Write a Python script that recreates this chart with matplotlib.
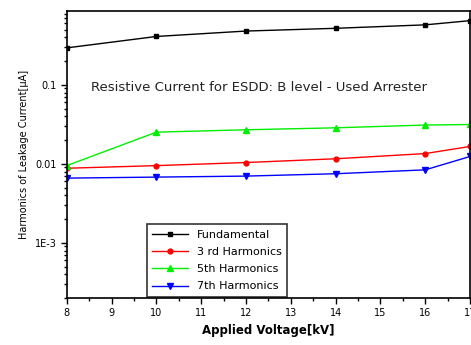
import numpy as np
import matplotlib.pyplot as plt
from matplotlib.ticker import LogLocator, NullFormatter, FixedLocator, MultipleLocator

voltage = [8, 10, 12, 14, 16, 17]
fundamental = [0.294, 0.41, 0.48, 0.52, 0.575, 0.65]
third = [0.0088, 0.0095, 0.0104, 0.0116, 0.0135, 0.0166]
fifth = [0.0095, 0.0252, 0.027, 0.0286, 0.031, 0.0315]
seventh = [0.0066, 0.0068, 0.0070, 0.0075, 0.0084, 0.0124]

fig = plt.figure(figsize=(4.71, 3.45), dpi=100)
ax = fig.add_axes([0.142, 0.136, 0.856, 0.832])

ax.plot(voltage, fundamental, color="black", marker="s", ms=3.5, lw=1, label="Fundamental")
ax.plot(voltage, third, color="red", marker="o", ms=3.5, lw=1, label="3 rd Harmonics")
ax.plot(voltage, fifth, color="#00ee00", marker="^", ms=4.5, lw=1, label="5th Harmonics")
ax.plot(voltage, seventh, color="blue", marker="v", ms=4.5, lw=1, label="7th Harmonics")

ax.set_yscale("log")
ax.set_xlim(8, 17)
ax.set_ylim(2e-4, 0.86)
ax.xaxis.set_major_locator(MultipleLocator(1))
ax.xaxis.set_minor_locator(MultipleLocator(0.5))
ax.yaxis.set_major_locator(FixedLocator([1e-3, 1e-2, 1e-1]))
ax.set_yticklabels(["1E-3", "0.01", "0.1"])
ax.yaxis.set_minor_locator(LogLocator(subs=np.arange(2, 10)))
ax.yaxis.set_minor_formatter(NullFormatter())
ax.tick_params(which="major", length=4, width=1, labelsize=7)
ax.tick_params(which="minor", length=2, width=1)
for s in ax.spines.values():
    s.set_linewidth(1.2)

ax.text(0.06, 0.72, "Resistive Current for ESDD: B level - Used Arrester",
        transform=ax.transAxes, fontsize=9.5, color="#222222")

ax.set_xlabel("Applied Voltage[kV]", fontsize=8.5, fontweight="bold")
ax.set_ylabel("Harmonics of Leakage Current[\u03bcA]", fontsize=7)

leg = ax.legend(loc="lower left", bbox_to_anchor=(0.195, 0.0), fontsize=8,
                frameon=True, fancybox=False, edgecolor="black",
                handlelength=3.2, labelspacing=0.65, borderaxespad=0.1,
                borderpad=0.5)
leg.get_frame().set_linewidth(1.2)

fig.savefig("out.png", dpi=100)
